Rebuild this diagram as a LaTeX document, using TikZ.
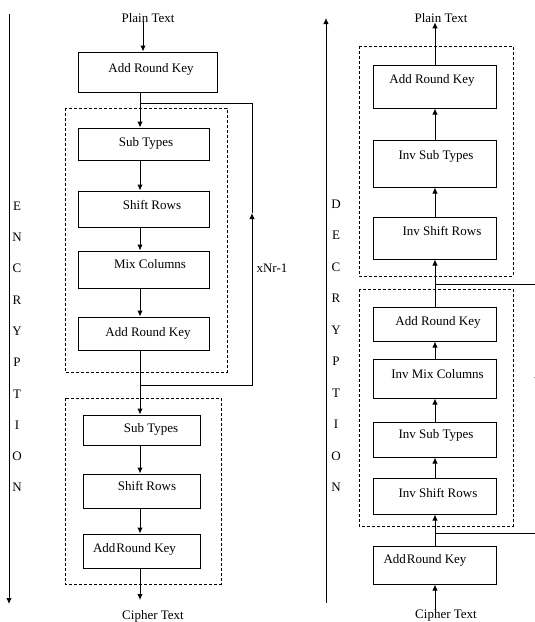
\documentclass[tikz,border=0pt]{standalone}
\usepackage{fontspec}
\setmainfont{Liberation Serif}
\usetikzlibrary{arrows.meta}

\tikzset{
  stage/.style={draw, rectangle, inner sep=0pt, line width=1pt},
  nudge/.style={execute at begin node={\hspace*{#1}}},
  flow/.style={line width=1pt, -{Latex[length=6pt,width=5.5pt]}},
  wire/.style={line width=1pt},
  roundbox/.style={densely dashed, line width=0.9pt},
  caption/.style={inner sep=0pt, anchor=base},
}

\begin{document}
\begin{tikzpicture}[x=1pt, y=-1pt, font=\fontsize{13pt}{15pt}\selectfont]
\useasboundingbox (0,0) rectangle (535,622);
\clip (0,0) rectangle (535,622);

% encryption
\draw[flow] (9,14) -- (9,604);
\foreach \c [count=\i from 0] in {E,N,C,R,Y,P,T,I,O,N}
  \node[inner sep=0pt] (enc\i) at (17,{206+31.3*\i}) {\c};

\coordinate (tx) at (143,0);
\coordinate (lx) at (140,0);

\node[caption] (pt1) at (148,22) {Plain Text};
\node[stage, minimum width=139pt, text height=20pt, text depth=20pt, nudge=7pt] (e0) at (147.5,72) {Add Round Key};

\draw[roundbox] (65,108) rectangle (227,372);
\node[stage, minimum width=131pt, text height=18pt, text depth=14pt, nudge=5pt] (e1) at (143.5,144) {Sub Types};
\node[stage, minimum width=131pt, text height=18pt, text depth=18pt, nudge=17pt] (e2) at (143.5,209) {Shift Rows};
\node[stage, minimum width=131pt, text height=17pt, text depth=20pt, nudge=13pt] (e3) at (143.5,269.5) {Mix Columns};
\node[stage, minimum width=131pt, text height=19pt, text depth=14pt, nudge=9pt] (e4) at (143.5,333.5) {Add Round Key};

\draw[roundbox] (65,398) rectangle (221,584);
\node[stage, minimum width=117pt, text height=17pt, text depth=13pt, nudge=19pt] (e5) at (141.5,430) {Sub Types};
\node[stage, minimum width=117pt, text height=16pt, text depth=18pt, nudge=11pt] (e6) at (141.5,491) {Shift Rows};
\node[stage, minimum width=117pt, text height=18pt, text depth=16pt, nudge=-14pt] (e7) at (141.5,551) {Add\hspace{1pt}Round Key};
\node[caption] (ct1) at (153,619) {Cipher Text};

\draw[flow] (pt1.south -| tx) -- (e0.north -| tx);
\draw[flow] (e0.south -| lx) -- (e1.north -| lx);
\draw[flow] (e1.south -| lx) -- (e2.north -| lx);
\draw[flow] (e2.south -| lx) -- (e3.north -| lx);
\draw[flow] (e3.south -| lx) -- (e4.north -| lx);
\draw[flow] (e4.south -| lx) -- (e5.north -| lx);
\draw[flow] (e5.south -| lx) -- (e6.north -| lx);
\draw[flow] (e6.south -| lx) -- (e7.north -| lx);
\draw[flow] (e7.south -| lx) -- (140,600);

% repeat loop
\coordinate (jin) at (140,103);
\coordinate (jout) at (140,385);
\coordinate (lpa) at (252,213);
\draw[flow] (jout) -| (lpa);
\draw[wire] (lpa) |- (jin);
\node[inner sep=0pt] (rep) at (272,268) {xNr-1};

% decryption
\draw[flow] (326,603) -- (326,18);
\foreach \c [count=\i from 0] in {D,E,C,R,Y,P,T,I,O,N}
  \node[inner sep=0pt] (dec\i) at (336,{204+31.5*\i}) {\c};

\coordinate (rx) at (435,0);

\node[caption] (pt2) at (441,22) {Plain Text};
\draw[roundbox] (359,46) rectangle (513,276);
\node[stage, minimum width=123pt, text height=18pt, text depth=25pt, nudge=-5pt] (d0) at (434.5,86.5) {Add Round Key};
\node[stage, minimum width=123pt, text height=19pt, text depth=28pt, nudge=3pt] (d1) at (434.5,163.5) {Inv Sub Types};
\node[stage, minimum width=123pt, text height=18pt, text depth=24pt, nudge=15pt] (d2) at (434.5,238) {Inv Shift Rows};

\draw[roundbox] (359,289) rectangle (513,526);
\node[stage, minimum width=123pt, text height=18pt, text depth=16pt, nudge=7pt] (d3) at (434.5,324) {Add Round Key};
\node[stage, minimum width=123pt, text height=19pt, text depth=20pt, nudge=6pt] (d4) at (434.5,378.5) {Inv Mix Columns};
\node[stage, minimum width=123pt, text height=16pt, text depth=19pt, nudge=3pt] (d5) at (434.5,439.5) {Inv Sub Types};
\node[stage, minimum width=123pt, text height=19pt, text depth=17pt, nudge=7pt] (d6) at (434.5,496) {Inv Shift Rows};

\node[stage, minimum width=123pt, text height=17pt, text depth=21pt, nudge=-19pt] (d7) at (434.5,565) {Add\hspace{1pt}Round Key};
\node[caption] (ct2) at (446,618) {Cipher Text};

\draw[flow] (ct2.north -| rx) -- (d7.south -| rx);
\draw[flow] (d7.north -| rx) -- (d6.south -| rx);
\draw[flow] (d6.north -| rx) -- (d5.south -| rx);
\draw[flow] (d5.north -| rx) -- (d4.south -| rx);
\draw[flow] (d4.north -| rx) -- (d3.south -| rx);
\draw[flow] (d3.north -| rx) -- (d2.south -| rx);
\draw[flow] (d2.north -| rx) -- (d1.south -| rx);
\draw[flow] (d1.north -| rx) -- (d0.south -| rx);
\draw[flow] (d0.north -| rx) -- (pt2.south -| rx);

% repeat loop, mostly off the page
\coordinate (rjo) at (435,533);
\coordinate (rji) at (435,284);
\coordinate (rpa) at (537,372);
\draw[flow] (rjo) -| (rpa);
\draw[wire] (rpa) |- (rji);

\end{tikzpicture}
\end{document}
